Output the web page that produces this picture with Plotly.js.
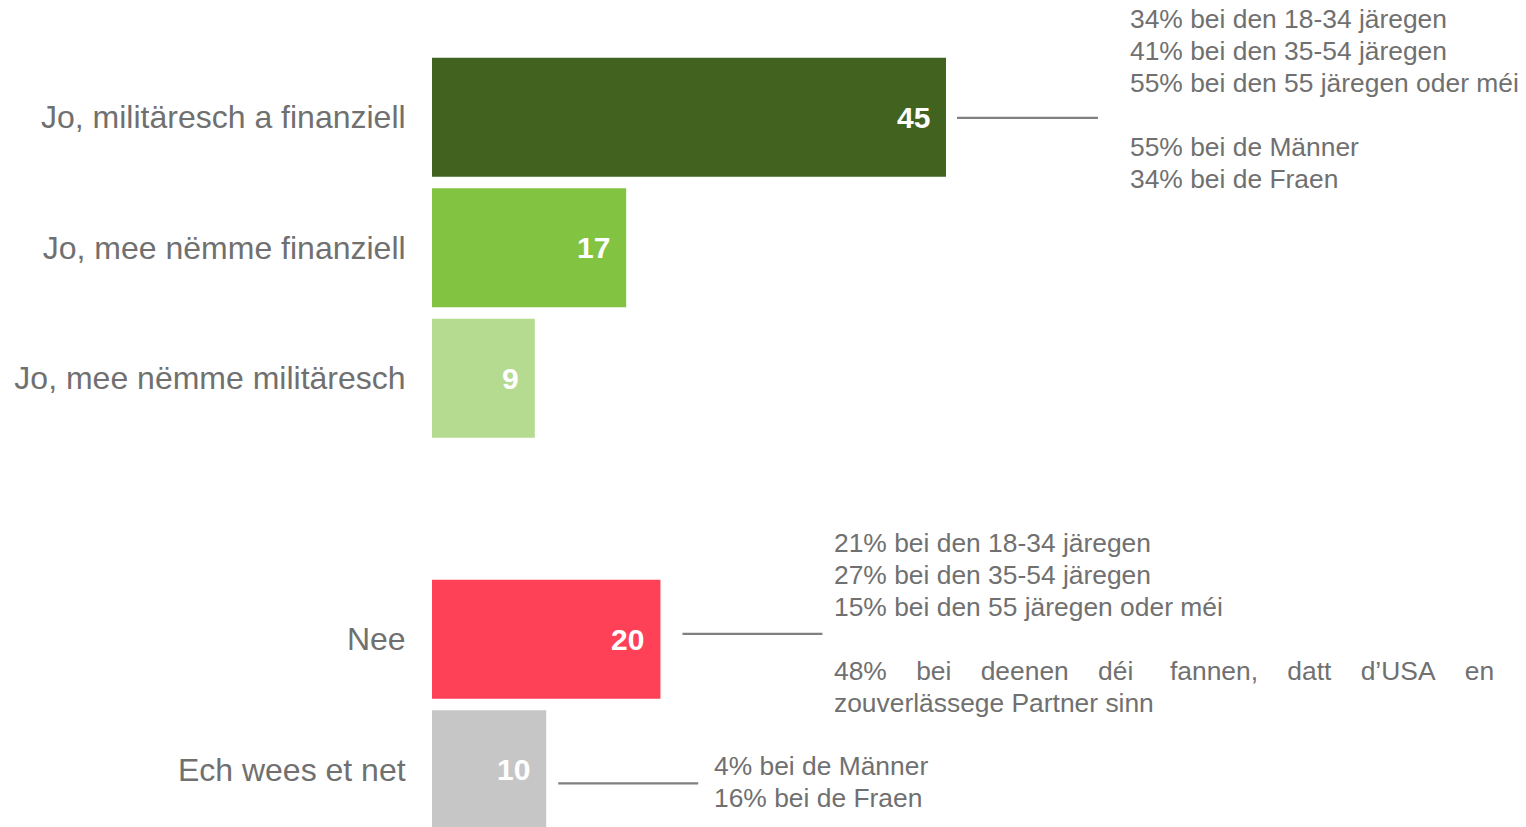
<!DOCTYPE html>
<html>
<head>
<meta charset="utf-8">
<script src="https://cdn.plot.ly/plotly-3.0.1.min.js"></script>
<style>html,body{margin:0;padding:0;background:#fff;}#chart{width:1526px;height:827px;}</style>
</head>
<body>
<div id="chart"></div>
<script>
// ---- data ----
var categories = ["Jo, militäresch a finanziell", "Jo, mee nëmme finanziell", "Jo, mee nëmme militäresch", " ", "Nee", "Ech wees et net"];
var values = [45, 17, 9, null, 20, 10];
var barColors = ["#41631f", "#82c341", "#b5db90", "#ffffff", "#ff4157", "#c6c6c6"];

var S = "\u00a0\u00a0\u00a0\u00a0";
var S5 = "\u00a0\u00a0\u00a0\u00a0\u00a0";
var noteYes = ["34% bei den 18-34 järegen", "41% bei den 35-54 järegen", "55% bei den 55 järegen oder méi", "", "55% bei de Männer", "34% bei de Fraen"];
var noteNo = ["21% bei den 18-34 järegen", "27% bei den 35-54 järegen", "15% bei den 55 järegen oder méi", "",
  "48%" + S + "bei" + S + "deenen" + S + "déi" + S5 + "fannen," + S + "datt" + S + "d\u2019USA" + S + "en",
  "zouverlässege Partner sinn"];
var noteDontKnow = ["4% bei de Männer", "16% bei de Fraen"];

// ---- layout helpers ----
var FONT = "Liberation Sans, Arial, sans-serif";
var GREY = "#707070";
var W = 1526, H = 827, ML = 432, MT = 52;
var pxPerUnit = 11.422;
var xMax = (W - ML) / pxPerUnit;
var pitch = 130.5;
var yBottom = -0.5 + (H - MT) / pitch;

var notes = [
  {cat: 0, lines: noteYes, lineGap: 11, lineLen: 141, lineDy: 0.6, textGap: 184, firstDy: -98.4},
  {cat: 4, lines: noteNo, lineGap: 22, lineLen: 140, lineDy: -5.4, textGap: 173.6, firstDy: -96.4},
  {cat: 5, lines: noteDontKnow, lineGap: 12, lineLen: 140, lineDy: 13.6, textGap: 168, firstDy: -3.4}
];

var annotations = [];
var shapes = [];

// value labels inside the bars
values.forEach(function (v, i) {
  if (v === null) return;
  annotations.push({
    x: v, y: i, xref: "x", yref: "y", text: String(v), showarrow: false,
    xanchor: "right", yanchor: "middle", xshift: -14,
    font: {family: FONT, size: 30, color: "#ffffff", weight: "bold"}
  });
});

notes.forEach(function (n) {
  var v = values[n.cat];
  var yl = n.cat + n.lineDy / pitch;
  shapes.push({
    type: "line", xref: "x", yref: "y", xsizemode: "pixel", xanchor: v,
    x0: n.lineGap, x1: n.lineGap + n.lineLen, y0: yl, y1: yl,
    line: {color: "#808080", width: 2.2}
  });
  n.lines.forEach(function (t, k) {
    if (!t) return;
    annotations.push({
      x: v, y: n.cat, xref: "x", yref: "y", text: t, showarrow: false,
      xanchor: "left", yanchor: "middle", xshift: n.textGap - 2,
      yshift: -(n.firstDy + 32 * k),
      font: {family: FONT, size: 26.4, color: GREY}
    });
  });
});

var trace = {
  type: "bar", orientation: "h",
  x: values, y: categories,
  marker: {color: barColors},
  hoverinfo: "skip"
};

var layout = {
  width: W, height: H,
  margin: {l: ML, r: 0, t: MT, b: 0, pad: 0},
  paper_bgcolor: "#ffffff", plot_bgcolor: "#ffffff",
  showlegend: false,
  bargap: 0.09,
  xaxis: {range: [0, xMax], visible: false, fixedrange: true},
  yaxis: {
    type: "category", categoryorder: "array", categoryarray: categories,
    range: [yBottom, -0.5], autorange: false,
    showgrid: false, zeroline: false, showline: false,
    ticks: "outside", ticklen: 19, tickcolor: "rgba(0,0,0,0)",
    tickfont: {family: FONT, size: 32, color: GREY}
  },
  annotations: annotations,
  shapes: shapes
};

Plotly.newPlot("chart", [trace], layout, {displayModeBar: false, staticPlot: true});
</script>
</body>
</html>
